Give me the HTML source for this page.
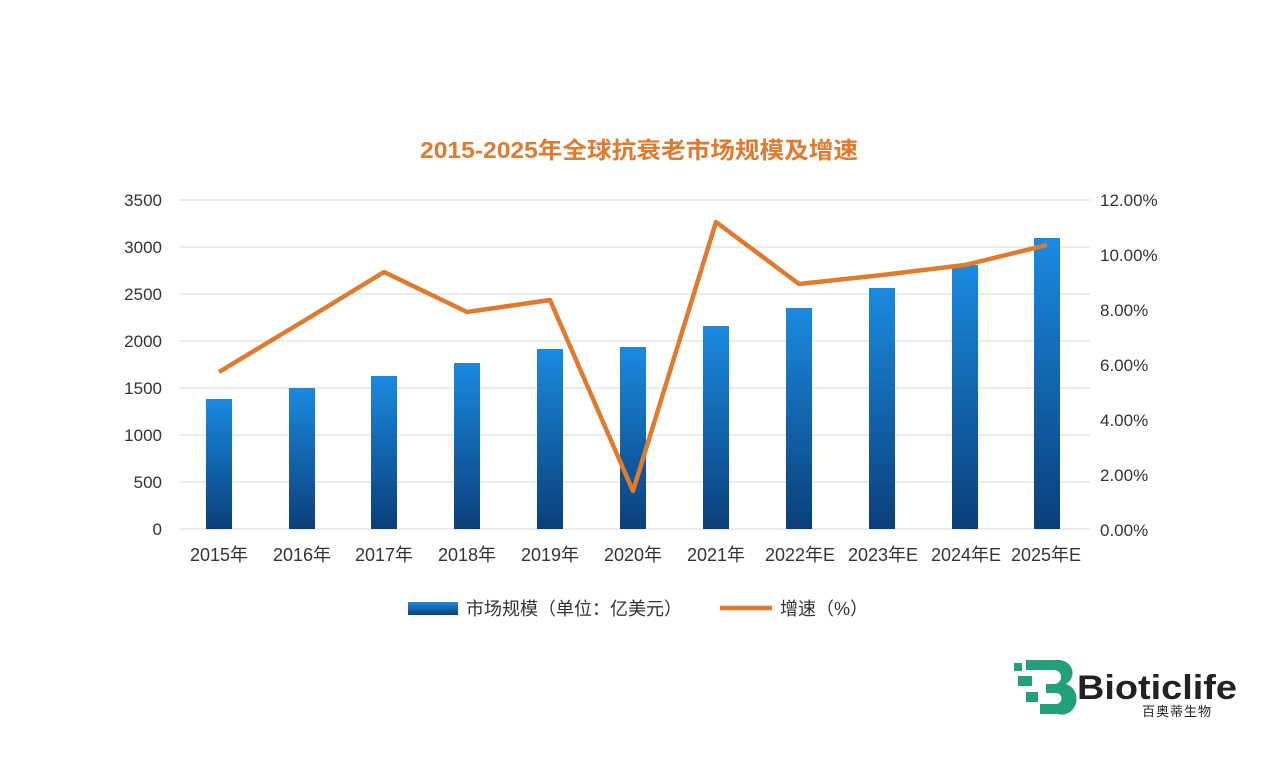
<!DOCTYPE html>
<html><head><meta charset="utf-8"><style>
body{margin:0;background:#fff;width:1280px;height:760px;overflow:hidden}
svg text{font-family:"Liberation Sans","Noto Sans CJK SC",sans-serif}
</style></head><body>
<svg width="1280" height="760" viewBox="0 0 1280 760" xmlns="http://www.w3.org/2000/svg">
<defs>
<linearGradient id="bg" x1="0" y1="0" x2="0" y2="1">
<stop offset="0" stop-color="#1a8ae0"/><stop offset="1" stop-color="#0a3f7a"/>
</linearGradient>
</defs>
<text x="420" y="158" textLength="438" lengthAdjust="spacingAndGlyphs" font-size="23" font-weight="bold" fill="#e07a2e">2015-2025年全球抗衰老市场规模及增速</text>
<g stroke="#d8d8d8" stroke-width="1">
<line x1="180" y1="200" x2="1090" y2="200"/><line x1="180" y1="247" x2="1090" y2="247"/>
<line x1="180" y1="294" x2="1090" y2="294"/><line x1="180" y1="341" x2="1090" y2="341"/>
<line x1="180" y1="388" x2="1090" y2="388"/><line x1="180" y1="435" x2="1090" y2="435"/>
<line x1="180" y1="482" x2="1090" y2="482"/><line x1="180" y1="529" x2="1090" y2="529"/>
</g>
<g font-size="17" fill="#333" text-anchor="end">
<text x="162" y="206">3500</text><text x="162" y="253">3000</text><text x="162" y="300">2500</text>
<text x="162" y="347">2000</text><text x="162" y="394">1500</text><text x="162" y="441">1000</text>
<text x="162" y="488">500</text><text x="162" y="535">0</text>
</g>
<g font-size="17" fill="#333">
<text x="1100" y="206">12.00%</text><text x="1100" y="261">10.00%</text><text x="1100" y="316">8.00%</text>
<text x="1100" y="371">6.00%</text><text x="1100" y="426">4.00%</text><text x="1100" y="481">2.00%</text>
<text x="1100" y="536">0.00%</text>
</g>
<g fill="url(#bg)">
<rect x="206" y="399" width="26" height="130"/><rect x="289" y="388" width="26" height="141"/>
<rect x="371" y="376" width="26" height="153"/><rect x="454" y="363" width="26" height="166"/>
<rect x="537" y="349" width="26" height="180"/><rect x="620" y="347" width="26" height="182"/>
<rect x="703" y="326" width="26" height="203"/><rect x="786" y="308" width="26" height="221"/>
<rect x="869" y="288" width="26" height="241"/><rect x="952" y="265" width="26" height="264"/>
<rect x="1034" y="238" width="26" height="291"/>
</g>
<polyline fill="none" stroke="#e07a2e" stroke-width="4.5" stroke-linejoin="round" points="219,372 302,322 384,272 467,312 550,300 633,491 716,222 799,284 882,275 965,265 1047,245"/>
<g font-size="18" fill="#333" text-anchor="middle">
<text x="219" y="561">2015年</text><text x="302" y="561">2016年</text><text x="384" y="561">2017年</text>
<text x="467" y="561">2018年</text><text x="550" y="561">2019年</text><text x="633" y="561">2020年</text>
<text x="716" y="561">2021年</text><text x="800" y="561">2022年E</text><text x="883" y="561">2023年E</text>
<text x="966" y="561">2024年E</text><text x="1046" y="561">2025年E</text>
</g>
<rect x="408" y="602" width="50" height="13" fill="url(#bg)"/>
<text x="466" y="615" font-size="18" fill="#333">市场规模（单位：亿美元）</text>
<line x1="720" y1="608" x2="772" y2="608" stroke="#e07a2e" stroke-width="4.5"/>
<text x="780" y="615" font-size="18" fill="#333">增速（%）</text>
<g fill="#23a07a">
<rect x="1014" y="663" width="8" height="8"/><rect x="1026" y="660" width="20" height="10"/>
<rect x="1018" y="676" width="14" height="10"/><rect x="1026" y="692" width="12" height="10"/>
<path d="M1040 660 H1058 A14 13 0 0 1 1066 684 A14 15 0 0 1 1058 714 H1040 V704 H1056 A5 5 0 0 0 1056 693 H1046 V684 H1054 A4 4 0 0 0 1054 670 H1040 Z"/>
</g>
<text x="1077" y="699" textLength="160" lengthAdjust="spacingAndGlyphs" font-size="34" font-weight="bold" fill="#222">Bioticlife</text>
<text x="1142" y="716" font-size="13" fill="#222" letter-spacing="1">百奥蒂生物</text>
</svg>
</body></html>
